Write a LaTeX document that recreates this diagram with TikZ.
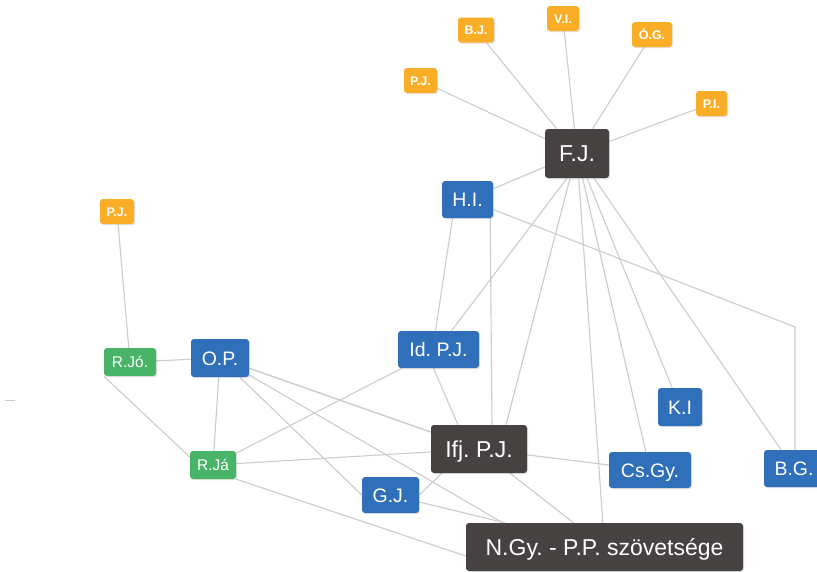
\documentclass[tikz,border=0pt]{standalone}
\usepackage{fontspec}
\setmainfont{Liberation Sans}
\usetikzlibrary{calc,shadows}
\definecolor{darkbox}{RGB}{70,66,65}
\definecolor{bluebox}{RGB}{48,111,186}
\definecolor{greenbox}{RGB}{72,180,104}
\definecolor{orangebox}{RGB}{250,174,40}
\definecolor{edgegray}{RGB}{204,204,204}
\pgfdeclarelayer{paper}
\pgfdeclarelayer{background}
\pgfsetlayers{paper,background,main}
\tikzset{
  base/.style={rectangle, rounded corners=3pt, text=white, inner xsep=1pt, inner ysep=0pt,
    text depth=0pt,
    drop shadow={shadow xshift=1.2pt, shadow yshift=-1.2pt, opacity=0.22}},
  darknode/.style={base, fill=darkbox, minimum height=48pt, text height=16.5pt, font=\fontsize{23}{26}\selectfont},
  bluenode/.style={base, fill=bluebox, minimum height=37pt, text height=14pt, font=\fontsize{19.5}{22}\selectfont},
  greennode/.style={base, fill=greenbox, minimum height=28pt, text height=11pt, font=\fontsize{15.5}{18}\selectfont},
  orangenode/.style={base, fill=orangebox, minimum height=25pt, text height=9pt, font=\bfseries\fontsize{12.5}{15}\selectfont},
  edge/.style={draw=edgegray, line width=1.1pt}
}
\begin{document}
\frenchspacing
\begin{tikzpicture}[x=1pt, y=-1pt]
\begin{pgfonlayer}{paper}
\fill[white] (0,0) rectangle (817,571);
\end{pgfonlayer}
\useasboundingbox (0,0) rectangle (817,571);

% dark nodes
\node[darknode, minimum width=64pt, minimum height=49pt] (fj) at (577,153.5) {F.J.};
\node[darknode, minimum width=96pt] (ifj) at (479,449) {Ifj. P.J.};
\node[darknode, minimum width=277pt] (ngy) at (604.5,547) {N.Gy. - P.P. szövetsége};

% blue nodes
\node[bluenode, minimum width=51pt] (hi) at (467.5,199.5) {H.I.};
\node[bluenode, minimum width=81pt] (idpj) at (438.5,349.5) {Id. P.J.};
\node[bluenode, minimum width=58pt, minimum height=38pt] (op) at (220,358) {O.P.};
\node[bluenode, minimum width=44pt, minimum height=38pt] (ki) at (680,407) {K.I};
\node[bluenode, minimum width=82pt, minimum height=36pt] (csgy) at (650,470) {Cs.Gy.};
\node[bluenode, minimum width=57pt, minimum height=36pt] (gj) at (390.5,495) {G.J.};
\node[bluenode, minimum width=60pt] (bg) at (794,468.5) {B.G.};

% green nodes
\node[greennode, minimum width=52pt] (rjo) at (130,362) {R.Jó.};
\node[greennode, minimum width=46pt] (rja) at (213,465) {R.Já};

% orange nodes
\node[orangenode, minimum width=36pt] (bj) at (476,30) {B.J.};
\node[orangenode, minimum width=32pt] (vi) at (563,18.5) {V.I.};
\node[orangenode, minimum width=40pt] (og) at (652,34.5) {Ó.G.};
\node[orangenode, minimum width=33pt] (pjt) at (420.5,80.5) {P.J.};
\node[orangenode, minimum width=31pt] (pi) at (711.5,103.5) {P.I.};
\node[orangenode, minimum width=34pt] (pjl) at (117,211.5) {P.J.};

\coordinate (elb) at (795,327);
\coordinate (s1) at (5,400.5);
\coordinate (s2) at (15,400.5);

\begin{pgfonlayer}{background}
% F.J. edges
\draw[edge] (fj) -- (bj);
\draw[edge] (fj) -- (vi);
\draw[edge] (fj) -- (og);
\draw[edge] (fj) -- (pjt);
\draw[edge] (fj) -- (pi);
\draw[edge] (fj) -- (hi);
\draw[edge] ($(fj.south)+(-10,0)$) -- ($(idpj.north)+(13,0)$);
\draw[edge] ($(fj.south)+(-7,0)$) -- ($(ifj.north)+(27,0)$);
\draw[edge] (fj) -- (ngy);
\draw[edge] (fj) -- (csgy);
\draw[edge] (fj) -- (ki);
\draw[edge] (fj) -- (bg);
% H.I. edges
\draw[edge] (hi) -- (elb) -- (bg.north -| elb);
\draw[edge] ($(hi.south)+(-15,0)$) -- ($(idpj.north)+(-3,0)$);
\draw[edge] ($(hi.south east)+(-3,0)$) -- ($(ifj.north)+(13,0)$);
% Id. P.J.
\draw[edge] ($(idpj.south)+(-5,0)$) -- ($(ifj.north)+(-21,0)$);
% left cluster
\draw[edge] (pjl) -- (rjo);
\draw[edge] (rjo) -- (op);
\draw[edge] (rjo.south west) -- ($(rja.west)+(0,-8)$);
\draw[edge] (op) -- (rja);
\draw[edge, line width=1.4pt] (op) -- (ifj);
\draw[edge] (op) -- ($(ngy.north west)+(37,0)$);
\draw[edge] (op) -- (gj.west);
\draw[edge] (rja) -- (idpj);
\draw[edge] (rja) -- (ifj);
\draw[edge] (rja.south east) -- ($(ngy.west)+(0,9)$);
% lower
\draw[edge] (ifj) -- (csgy);
\draw[edge] (ifj) -- (ngy);
\draw[edge] (gj) -- (ngy);
\draw[edge] (gj.east) -- ($(ifj.south west)+(11,0)$);
% stub
\draw[edge] (s1) -- (s2);
\end{pgfonlayer}
\end{tikzpicture}
\end{document}
